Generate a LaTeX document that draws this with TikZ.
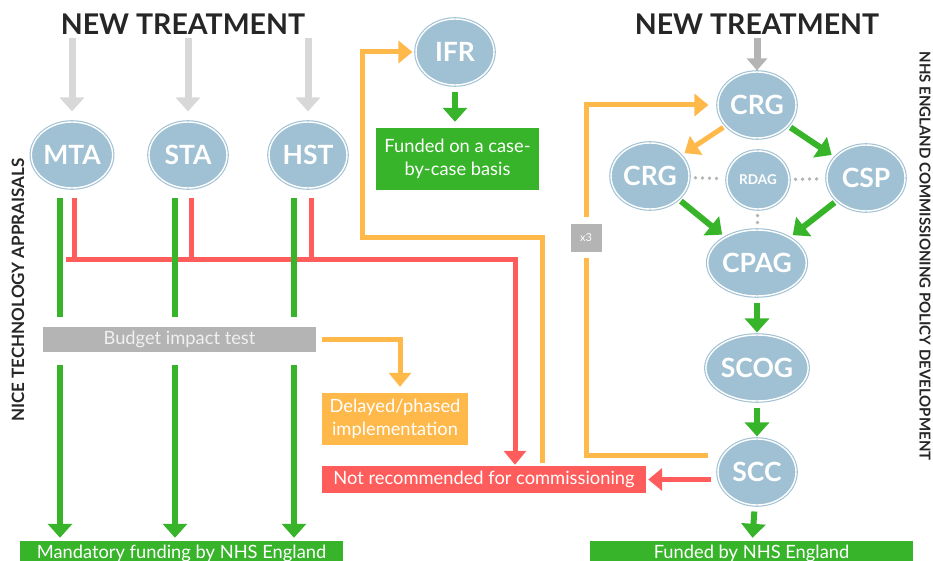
\documentclass[tikz,border=0pt]{standalone}
\usepackage{fontspec}
\setmainfont{Lato}
\usetikzlibrary{arrows.meta,shapes.geometric}
\definecolor{bodyblue}{HTML}{9FC1D3}
\definecolor{okgreen}{HTML}{38B42B}
\definecolor{nored}{HTML}{FF5C5C}
\definecolor{waitorange}{HTML}{FFB84A}
\definecolor{lightgrey}{HTML}{D8D8D8}
\definecolor{midgrey}{HTML}{B4B4B4}
\definecolor{inkgrey}{HTML}{262626}

\begin{document}
\begin{tikzpicture}[x=1pt,y=-1pt]
\tikzstyle{agency}=[ellipse, draw=bodyblue, fill=bodyblue, double=white, double distance=1.4pt, line width=1.1pt, minimum width=78pt, minimum height=66pt, inner sep=0pt, text=white, font=\fontsize{26.5}{26.5}\selectfont\bfseries]
\tikzstyle{outcome}=[rectangle, inner sep=0pt, text=white, align=center, font=\fontsize{18.3}{23}\selectfont]
\tikzstyle{title}=[text=inkgrey, font=\fontsize{28.5}{28.5}\selectfont\bfseries]
\tikzstyle{sidelabel}=[text=inkgrey, inner sep=0pt, font=\fontsize{17}{17}\selectfont\bfseries]
\tikzset{greyarrow/.style={draw=lightgrey, line width=7pt, -{Triangle[width=24pt,length=14pt]}}}
\tikzset{greenline/.style={draw=okgreen, line width=6pt}}
\tikzset{greenarrow/.style={greenline, -{Triangle[width=24pt,length=14pt]}}}
\tikzset{redline/.style={draw=nored, line width=5pt}}
\tikzset{redarrow/.style={redline, -{Triangle[width=22pt,length=14pt]}}}
\tikzset{orangeline/.style={draw=waitorange, line width=5pt}}
\tikzset{orangearrow/.style={orangeline, -{Triangle[width=22pt,length=14pt]}}}
\tikzset{dotlink/.style={draw=midgrey, line width=3.8pt, line cap=round, dash pattern=on 0pt off 7pt, shorten <=6pt, shorten >=6pt}}
\useasboundingbox (0,0) rectangle (933,561);

% left side: NICE appraisals
\node[title] (NTL) at (183,24) {NEW TREATMENT};
\node[agency] (MTA) at (72,155) {MTA};
\node[agency] (STA) at (188,155) {STA};
\node[agency] (HST) at (308,155) {HST};
\node[sidelabel, rotate=90] (NICE) at (18,290) {NICE TECHNOLOGY APPRAISALS};
\node[outcome, fill=midgrey, minimum width=273pt, minimum height=25pt, text=white!94!black] (BIT) at (179.5,339.5) {Budget impact test};
\node[outcome, fill=waitorange, minimum width=146pt, minimum height=52pt] (DELAY) at (395,419) {Delayed/phased\\implementation};
\node[outcome, fill=nored, minimum width=324pt, minimum height=27pt] (NREC) at (484,479.5) {Not recommended for commissioning};
\node[outcome, fill=okgreen, minimum width=323pt, minimum height=24pt] (MAND) at (181.5,553) {Mandatory funding by NHS England};

\draw[greyarrow, shorten >=10pt] (NTL.south -| MTA) -- (MTA);
\draw[greyarrow, shorten >=10pt] (NTL.south -| STA) -- (STA);
\draw[greyarrow, shorten >=10pt] (NTL.south -| HST) -- (HST);

% rejected route
\coordinate (BUSL) at (66,259);
\coordinate (BUSR) at (515,259);
\draw[redline] (74,198) -- (74,259);
\draw[redline] (191,198) -- (191,259);
\draw[redline] (311,198) -- (311,259);
\draw[redarrow, shorten >=1pt] (BUSL) -- (BUSR) -- (BUSR |- NREC.north);

% recommended route
\draw[greenline] (60,198) -- (60,317);
\draw[greenline] (175,198) -- (175,317);
\draw[greenline] (294,198) -- (294,317);
\draw[greenarrow, shorten >=3pt] (60,365) -- (60,365 |- MAND.north);
\draw[greenarrow, shorten >=3pt] (175,365) -- (175,365 |- MAND.north);
\draw[greenarrow, shorten >=3pt] (294,365) -- (294,365 |- MAND.north);
\draw[orangearrow, shorten <=6pt, shorten >=6pt] (BIT.east) -| ([xshift=5pt]DELAY.north);

% individual funding request
\node[agency] (IFR) at (455,52) {IFR};
\node[outcome, fill=okgreen, minimum width=163pt, minimum height=62pt] (CASE) at (457.5,159) {Funded on a case-\\by-case basis};
\coordinate (LOOPL) at (362,237);
\draw[orangearrow, shorten <=3pt, shorten >=3pt] ([xshift=58pt]NREC.north) |- (LOOPL) |- (IFR);
\draw[greenarrow, shorten <=6pt, shorten >=6pt] (IFR.south) -- (IFR.south |- CASE.north);

% right side: NHS England policy development
\node[title] (NTR) at (757,24) {NEW TREATMENT};
\node[agency] (CRGT) at (757,105) {CRG};
\node[agency] (CRGL) at (650,176) {CRG};
\node[agency, minimum width=62pt, minimum height=58pt, font=\fontsize{13.5}{13.5}\selectfont\bfseries] (RDAG) at (758,180) {RDAG};
\node[agency] (CSP) at (866,178) {CSP};
\node[agency] (CPAG) at (757,263) {CPAG};
\node[agency] (SCOG) at (757,368) {SCOG};
\node[agency] (SCC) at (757,472) {SCC};
\node[outcome, fill=okgreen, minimum width=323pt, minimum height=24pt] (FUND) at (751.5,553) {Funded by NHS England};
\node[outcome, fill=midgrey, minimum width=31pt, minimum height=27pt, font=\fontsize{11}{11}\selectfont] (XTHREE) at (586,238) {x3};
\node[sidelabel, rotate=-90, font=\fontsize{15}{15}\selectfont\bfseries] (NHSE) at (925,256) {NHS ENGLAND COMMISSIONING POLICY DEVELOPMENT};

\draw[greyarrow, draw=midgrey, line width=7pt, -{Triangle[width=20pt,length=12pt]}, shorten >=1pt] (NTR.south) -- (CRGT);
\draw[orangearrow, shorten <=3pt, shorten >=4pt] (CRGT) -- (CRGL);
\draw[greenarrow, shorten <=3pt, shorten >=4pt] (CRGT) -- (CSP);
\draw[dotlink] (CRGL) -- (RDAG);
\draw[dotlink] (RDAG) -- (CSP);
\draw[dotlink] (RDAG) -- (CPAG);
\draw[greenarrow, shorten <=3pt, shorten >=4pt] (CRGL) -- (CPAG);
\draw[greenarrow, shorten <=3pt, shorten >=4pt] (CSP) -- (CPAG);
\draw[greenarrow, shorten <=6pt, shorten >=2pt] (CPAG) -- (SCOG);
\draw[greenarrow, shorten <=6pt, shorten >=2pt] (SCOG) -- (SCC);
\draw[greenarrow, shorten <=6pt, shorten >=3pt] (SCC) -- (FUND);
\draw[redarrow, shorten <=6pt, shorten >=2pt] (SCC.west |- NREC.east) -- (NREC.east);

% review loop
\coordinate (SCCO) at (708,455);
\draw[orangeline, shorten >=6pt] (SCCO) -| (XTHREE);
\draw[orangearrow, shorten <=7pt, shorten >=9pt] (XTHREE) |- (CRGT);
\end{tikzpicture}
\end{document}
